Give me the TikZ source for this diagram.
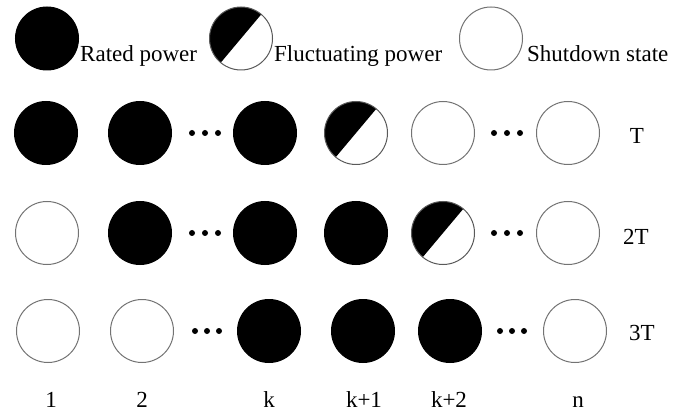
\documentclass[tikz,border=0pt]{standalone}
\usepackage{fontspec}
\setmainfont{Liberation Serif}
\begin{document}
\begin{tikzpicture}[x=1pt,y=-1pt,
  unit/.style={circle, minimum size=63pt, inner sep=0pt, line width=1pt},
  rated/.style={unit, fill=black, draw=black},
  shut/.style={unit, fill=white, draw=black!55},
  fluct/.style={unit, fill=white, draw=black!65,
    path picture={\fill[black] (path picture bounding box.center) ++(50:45pt) -- ++(140:45pt) -- ++(230:90pt) -- ++(320:45pt) -- cycle;}},
  dot/.style={circle, fill=black, minimum size=6pt, inner sep=0pt},
  lbl/.style={font=\fontsize{23}{27}\selectfont, inner sep=0pt}
]
\useasboundingbox (0,0) rectangle (688,414);

% legend
\node[rated] (lr) at (47,38.5) {};
\node[lbl, anchor=base west] (lrt) at (80,62) {Rated power};
\node[fluct] (lf) at (241,38.5) {};
\node[lbl, anchor=base west] (lft) at (274,62) {Fluctuating power};
\node[shut] (ls) at (491,38.5) {};
\node[lbl, anchor=base west] (lst) at (527,62) {Shutdown state};

% period T
\node[rated] (a1) at (46,133) {};
\node[rated] (a2) at (140,133) {};
\node[rated] (a3) at (265,133) {};
\node[fluct] (a4) at (356,133) {};
\node[shut]  (a5) at (443,133) {};
\node[shut]  (a6) at (568,133) {};
\foreach \x [count=\i] in {192,205,218} \node[dot] (ad\i) at (\x,133) {};
\foreach \x [count=\i] in {494,507,520} \node[dot] (ae\i) at (\x,133) {};
\node[lbl] (rT) at (637,136) {T};

% period 2T
\node[shut]  (b1) at (47,233) {};
\node[rated] (b2) at (140,233) {};
\node[rated] (b3) at (265,233) {};
\node[rated] (b4) at (356,233) {};
\node[fluct] (b5) at (443,233) {};
\node[shut]  (b6) at (568,233) {};
\foreach \x [count=\i] in {192,205,218} \node[dot] (bd\i) at (\x,233) {};
\foreach \x [count=\i] in {494,507,520} \node[dot] (be\i) at (\x,233) {};
\node[lbl] (r2T) at (636,237) {2T};

% period 3T
\node[shut]  (c1) at (48,331) {};
\node[shut]  (c2) at (142,331) {};
\node[rated] (c3) at (269,331) {};
\node[rated] (c4) at (363,331) {};
\node[rated] (c5) at (450,331) {};
\node[shut]  (c6) at (575,331) {};
\foreach \x [count=\i] in {195,207,219} \node[dot] (cd\i) at (\x,331) {};
\foreach \x [count=\i] in {500,512,524} \node[dot] (ce\i) at (\x,331) {};
\node[lbl] (r3T) at (642,333) {3T};

% unit indices
\foreach \x/\t [count=\i] in {51/1,142/2,269/k,364/k+1,449/k+2,578/n}
  \node[lbl, anchor=base] (n\i) at (\x,407) {\t};
\end{tikzpicture}
\end{document}
